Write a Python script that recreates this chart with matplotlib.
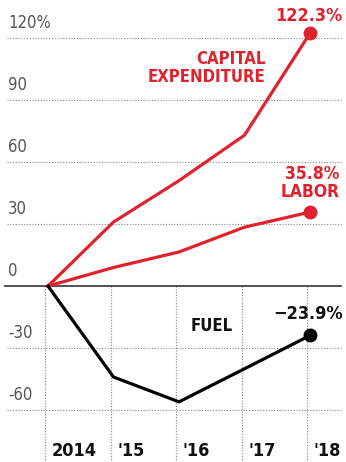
import matplotlib
matplotlib.use("Agg")
import matplotlib.pyplot as plt

# Data: percent change since 2014
years = ["2014", "'15", "'16", "'17", "'18"]
capex = [0, 31, 51, 73, 122.3]
labor = [0, 9, 16.5, 28.5, 35.8]
fuel = [0, -44, -56, -40, -23.9]
y_ticks = [120, 90, 60, 30, 0, -30, -60]
y_tick_labels = ["120%", "90", "60", "30", "0", "-30", "-60"]

plt.rcParams["font.family"] = ["DejaVu Sans"]
plt.rcParams["font.stretch"] = "condensed"

RED = "#e0222e"
GREY = "#555555"

fig = plt.figure(figsize=(3.46, 4.62), dpi=100)
ax = fig.add_axes([0, 0, 1, 1])
ax.set_xlim(-0.733, 4.55)
ax.set_ylim(-85.1, 138.4)
ax.axis("off")

x = list(range(len(years)))

# horizontal dotted gridlines
for v, lab in zip(y_ticks, y_tick_labels):
    if v == 0:
        ax.plot([-0.65, 4.47], [0, 0], color="#333333", lw=1.2, zorder=2)
    else:
        ax.plot([-0.62, 4.47], [v, v], color="#888888", lw=0.8,
                linestyle=(0, (1, 1.5)), zorder=1)
    ax.text(-0.61, v + 3, lab, ha="left", va="bottom",
            fontsize=12, color=GREY, stretch="condensed")

# vertical dotted lines below the zero line
for xi in x:
    ax.plot([xi - 0.04, xi - 0.04], [0, -85], color="#888888", lw=0.8,
            linestyle=(0, (1, 1.5)), zorder=1)
    ax.text(xi + 0.06, -80, years[xi], ha="left", va="center",
            fontsize=13, fontweight="bold", color="#111111", stretch="condensed")

# series
ax.plot(x, capex, color=RED, lw=2.3, zorder=4)
ax.plot(x, labor, color=RED, lw=2.3, zorder=4)
ax.plot(x, fuel, color="black", lw=2.3, zorder=4)
ax.plot(x[-1], capex[-1], "o", color=RED, ms=9, zorder=5)
ax.plot(x[-1], labor[-1], "o", color=RED, ms=9, zorder=5)
ax.plot(x[-1], fuel[-1], "o", color="black", ms=9, zorder=5)

# labels
ax.text(4.5, capex[-1] + 4, f"{capex[-1]}%", ha="right", va="bottom",
        fontsize=13, fontweight="bold", color=RED, stretch="condensed")
ax.text(3.32, 105.5, "CAPITAL\nEXPENDITURE", ha="right", va="center",
        fontsize=12, fontweight="bold", color=RED, linespacing=1.0,
        stretch="condensed")
ax.text(4.45, labor[-1] + 14, f"{labor[-1]}%\nLABOR", ha="right", va="center",
        fontsize=12.5, fontweight="bold", color=RED, linespacing=1.0,
        stretch="condensed")
ax.text(4.5, fuel[-1] + 6, f"\u2212{abs(fuel[-1])}%", ha="right", va="bottom",
        fontsize=13, fontweight="bold", color="#111111", stretch="condensed")
ax.text(2.5, -19.5, "FUEL", ha="center", va="center",
        fontsize=12, fontweight="bold", color="#111111", stretch="condensed")

fig.savefig("out.png", dpi=100)
